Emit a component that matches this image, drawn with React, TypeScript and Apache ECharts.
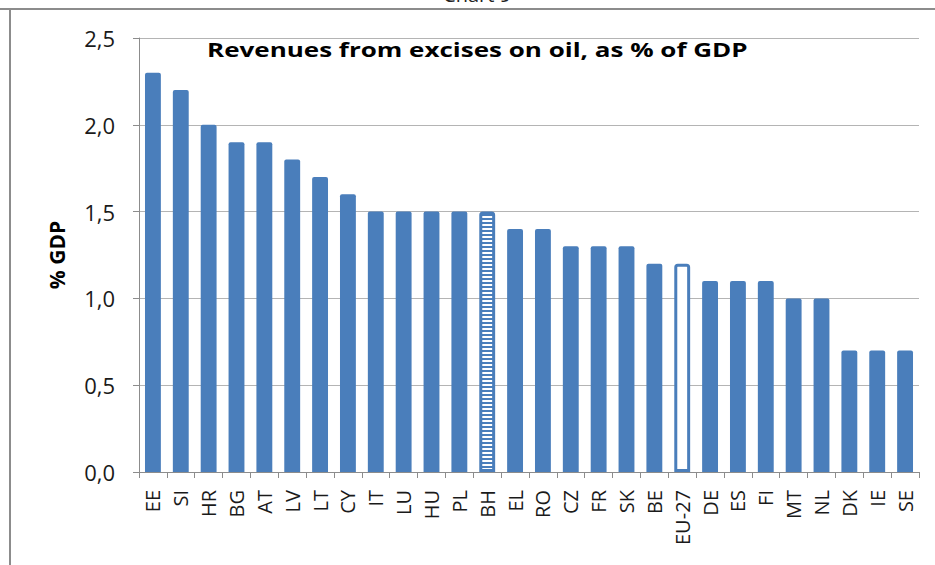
import { useEffect, useRef } from 'react';
import * as echarts from 'echarts';

const CATEGORIES = ['EE', 'SI', 'HR', 'BG', 'AT', 'LV', 'LT', 'CY', 'IT', 'LU', 'HU', 'PL', 'BH', 'EL', 'RO', 'CZ', 'FR', 'SK', 'BE', 'EU-27', 'DE', 'ES', 'FI', 'MT', 'NL', 'DK', 'IE', 'SE'];
const VALUES = [2.3, 2.2, 2.0, 1.9, 1.9, 1.8, 1.7, 1.6, 1.5, 1.5, 1.5, 1.5, 1.5, 1.4, 1.4, 1.3, 1.3, 1.3, 1.2, 1.2, 1.1, 1.1, 1.1, 1.0, 1.0, 0.7, 0.7, 0.7];
const PATTERNED = ['BH'];
const HOLLOW = ['EU-27'];
const Y_MIN = 0;
const Y_MAX = 2.5;
const Y_STEP = 0.5;
const TITLE = 'Revenues from excises on oil, as % of GDP';
const Y_NAME = '% GDP';
const TOP_CAPTION = 'Chart 9';

const BLUE = '#4a7ebb';
const FONT = 'Open Sans';

function makeStripes() {
  const c = document.createElement('canvas');
  c.width = 4;
  c.height = 4;
  const ctx = c.getContext('2d')!;
  ctx.fillStyle = BLUE;
  ctx.fillRect(0, 0, 4, 4);
  ctx.fillStyle = '#ffffff';
  ctx.fillRect(0, 0, 4, 2);
  return c;
}

export default function App() {
  const ref = useRef<HTMLDivElement>(null);
  useEffect(() => {
    document.body.style.margin = '0';
    const chart = echarts.init(ref.current!, undefined, { renderer: 'svg' });
    const stripes = makeStripes();
    const data = CATEGORIES.map((c, i) => {
      if (PATTERNED.includes(c)) {
        return {
          value: VALUES[i],
          itemStyle: {
            color: { image: stripes, repeat: 'repeat', imageWidth: 4, imageHeight: 4 } as any,
            borderColor: BLUE,
            borderWidth: 3,
          },
        };
      }
      if (HOLLOW.includes(c)) {
        return { value: VALUES[i], itemStyle: { color: '#ffffff', borderColor: BLUE, borderWidth: 3 } };
      }
      return VALUES[i];
    });
    chart.setOption({
      animation: false,
      textStyle: { fontFamily: FONT },
      grid: { left: 139, right: 16, top: 38, bottom: 93 },
      graphic: [
        { type: 'line', shape: { x1: 0, y1: 9, x2: 935, y2: 9 }, style: { stroke: '#8c8c8c', lineWidth: 2 } },
        { type: 'line', shape: { x1: 10, y1: 9, x2: 10, y2: 565 }, style: { stroke: '#8c8c8c', lineWidth: 2 } },
        {
          type: 'text', x: 477, y: 4,
          style: { text: TOP_CAPTION, font: `20px "${FONT}"`, fill: '#222', align: 'center', verticalAlign: 'bottom' },
        },
        {
          type: 'text', x: 207, y: 49, scaleX: 1.3,
          style: { text: TITLE, font: `bold 20px "${FONT}"`, fill: '#000', align: 'left', verticalAlign: 'middle' },
        },
      ],
      xAxis: {
        type: 'category',
        data: CATEGORIES,
        axisLine: { lineStyle: { color: '#8c8c8c', width: 1 } },
        axisTick: { show: true, length: 6, lineStyle: { color: '#8c8c8c' } },
        axisLabel: { rotate: 90, fontSize: 20, color: '#1a1a1a', margin: 18, interval: 0, fontFamily: FONT },
      },
      yAxis: {
        type: 'value',
        min: Y_MIN,
        max: Y_MAX,
        interval: Y_STEP,
        name: Y_NAME,
        nameLocation: 'middle',
        nameGap: 72,
        nameTextStyle: { fontSize: 21, fontWeight: 'bold', color: '#000', fontFamily: FONT },
        axisLine: { show: true, lineStyle: { color: '#8c8c8c' } },
        axisTick: { show: true, length: 6, lineStyle: { color: '#8c8c8c' } },
        axisLabel: {
          fontSize: 22, color: '#1a1a1a', margin: 24, fontFamily: FONT,
          formatter: (v: number) => v.toFixed(1).replace('.', ','),
        },
        splitLine: { lineStyle: { color: '#b4b4b4', width: 1 } },
      },
      series: [
        {
          type: 'bar',
          data,
          barWidth: '57%',
          itemStyle: { color: BLUE, borderRadius: [2, 2, 0, 0] },
        },
      ],
    });
    return () => chart.dispose();
  }, []);
  return <div ref={ref} style={{ width: 935, height: 565 }} />;
}
